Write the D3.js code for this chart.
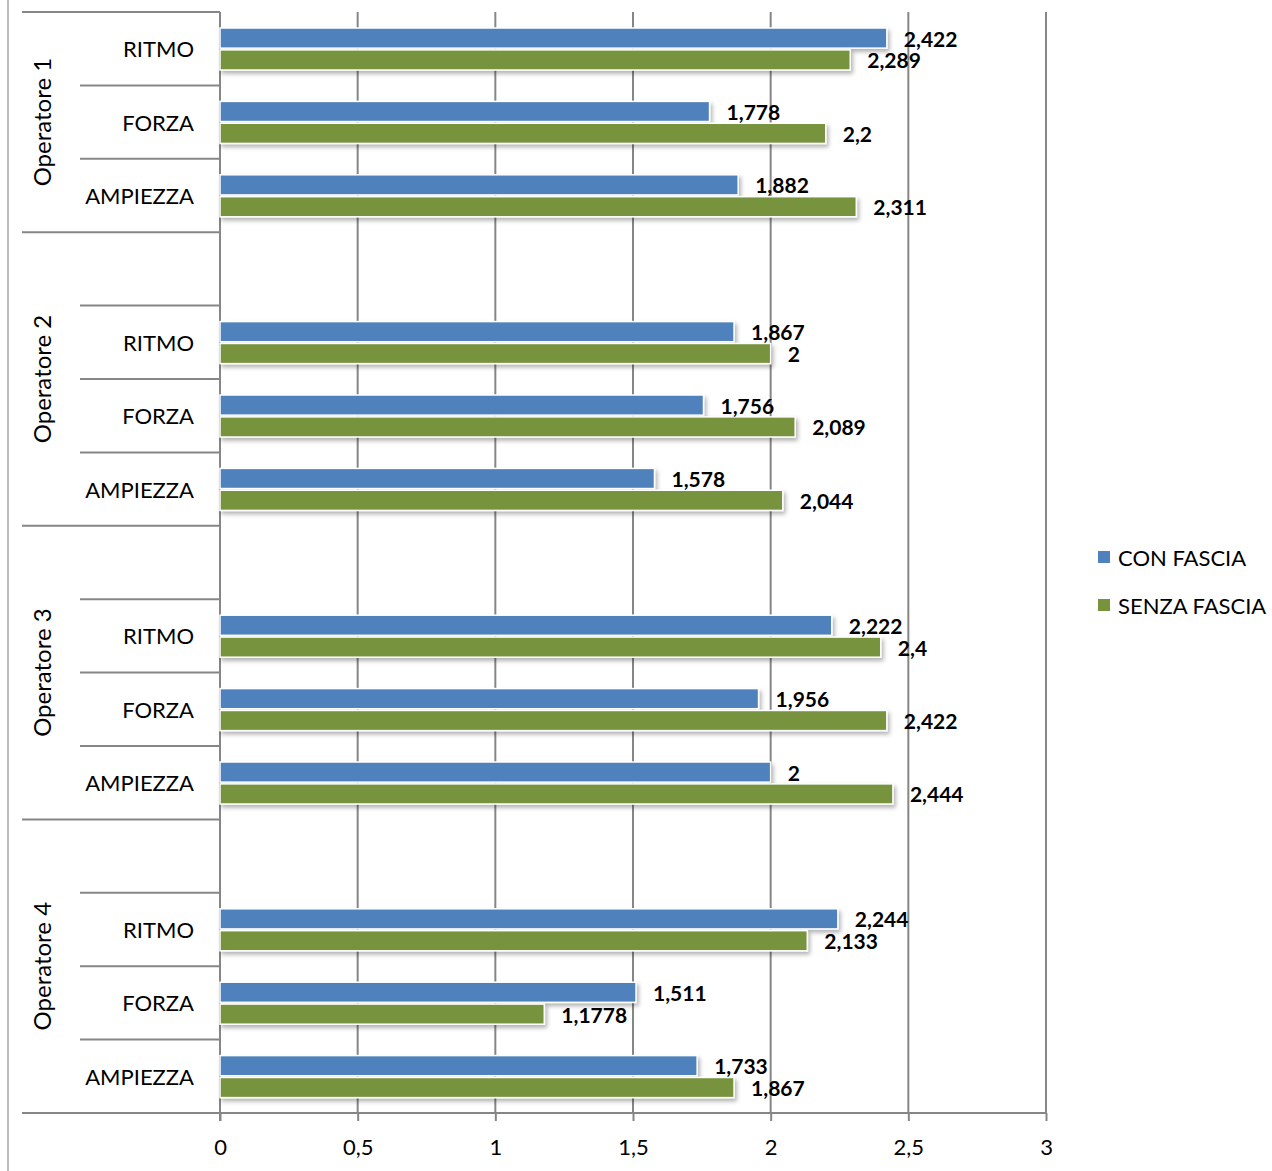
<!DOCTYPE html>
<html>
<head>
<meta charset="utf-8">
<script src="https://cdn.jsdelivr.net/npm/d3@7"></script>
<style>
  body { margin: 0; background: #fff; }
  svg { font-family: Lato, "Open Sans", sans-serif; }
</style>
</head>
<body>
<div id="chart"></div>
<script>
// data
const operators = ["Operatore 1", "Operatore 2", "Operatore 3", "Operatore 4"];
const measures = ["RITMO", "FORZA", "AMPIEZZA"];
const seriesNames = ["CON FASCIA", "SENZA FASCIA"];
const conFascia = [
  [2.422, 1.778, 1.882],
  [1.867, 1.756, 1.578],
  [2.222, 1.956, 2],
  [2.244, 1.511, 1.733]
];
const senzaFascia = [
  [2.289, 2.2, 2.311],
  [2, 2.089, 2.044],
  [2.4, 2.422, 2.444],
  [2.133, 1.1778, 1.867]
];
const xTicks = [0, 0.5, 1, 1.5, 2, 2.5, 3];
const colors = ["#4f81bd", "#77933c"];

const W = 1272, H = 1171;
const plot = { left: 220, right: 1046, top: 12, bottom: 1113 };

const itLocale = d3.formatLocale({ decimal: ",", thousands: ".", grouping: [3], currency: ["€", ""] });
const fmtVal = itLocale.format(".4~f");
const fmtTick = itLocale.format("~g");

// rows: group 1 has no blank row, the others start with a blank row
const rows = [];
operators.forEach((op, gi) => {
  if (gi > 0) rows.push({ key: op + "-blank", group: gi, blank: true });
  measures.forEach((m, mi) => rows.push({ key: op + "-" + m, group: gi, measure: m, mi }));
});

const svg = d3.select("#chart").append("svg")
  .attr("width", W).attr("height", H);

const defs = svg.append("defs");
defs.append("filter").attr("id", "shadow")
  .attr("x", "-5%").attr("y", "-30%").attr("width", "110%").attr("height", "180%")
  .append("feDropShadow")
  .attr("dx", 2).attr("dy", 3).attr("stdDeviation", 2)
  .attr("flood-color", "#000").attr("flood-opacity", 0.3);

const x = d3.scaleLinear().domain([0, 3]).range([plot.left, plot.right]);
const y = d3.scaleBand().domain(rows.map(r => r.key)).range([plot.top, plot.bottom]);
const ySeries = d3.scaleBand().domain(seriesNames).range([16, 58]).paddingInner(0.08);

const grid = "#868686";

// left frame line
svg.append("line").attr("x1", 8).attr("x2", 8).attr("y1", 0).attr("y2", H)
  .attr("stroke", "#a6a6a6").attr("stroke-width", 1.5);

// vertical gridlines
svg.append("g").selectAll("line").data(xTicks.slice(1)).join("line")
  .attr("x1", d => x(d)).attr("x2", d => x(d))
  .attr("y1", plot.top).attr("y2", plot.bottom)
  .attr("stroke", grid).attr("stroke-width", 2);

// x axis
const xAxis = d3.axisBottom(x).tickValues(xTicks).tickFormat(fmtTick).tickSize(8).tickPadding(18);
const gx = svg.append("g").attr("transform", `translate(0,${plot.bottom})`).call(xAxis);
gx.select(".domain").remove();
gx.selectAll(".tick line").attr("stroke", grid).attr("stroke-width", 2);
gx.selectAll(".tick text").attr("font-size", 22).attr("fill", "#000")
  .attr("font-family", "Lato, 'Open Sans', sans-serif");
svg.append("line").attr("x1", 22).attr("x2", plot.right)
  .attr("y1", plot.bottom).attr("y2", plot.bottom)
  .attr("stroke", grid).attr("stroke-width", 2);

// category axis line
svg.append("line").attr("x1", plot.left).attr("x2", plot.left)
  .attr("y1", plot.top).attr("y2", plot.bottom + 8)
  .attr("stroke", grid).attr("stroke-width", 2);

// row separators: long lines at group boundaries, short ones between rows
const groupStarts = operators.map((op, gi) => rows.find(r => r.group === gi));
svg.append("g").selectAll("line").data(groupStarts).join("line")
  .attr("x1", 22).attr("x2", plot.left)
  .attr("y1", d => y(d.key)).attr("y2", d => y(d.key))
  .attr("stroke", grid).attr("stroke-width", 2);
const innerRows = rows.filter(r => !groupStarts.includes(r));
svg.append("g").selectAll("line").data(innerRows).join("line")
  .attr("x1", 80).attr("x2", plot.left)
  .attr("y1", d => y(d.key)).attr("y2", d => y(d.key))
  .attr("stroke", grid).attr("stroke-width", 2);

// category labels
const dataRows = rows.filter(r => !r.blank);
svg.append("g").selectAll("text").data(dataRows).join("text")
  .attr("x", 194).attr("y", d => y(d.key) + y.bandwidth() / 2)
  .attr("text-anchor", "end").attr("dominant-baseline", "central")
  .attr("font-size", 22).attr("fill", "#000")
  .text(d => d.measure);

// group labels
svg.append("g").selectAll("text").data(operators).join("text")
  .attr("transform", (op, gi) => {
    const gr = rows.filter(r => r.group === gi);
    const cy = (y(gr[0].key) + y(gr[gr.length - 1].key) + y.bandwidth()) / 2;
    return `translate(41,${cy}) rotate(-90)`;
  })
  .attr("text-anchor", "middle").attr("dominant-baseline", "central")
  .attr("font-size", 24).attr("fill", "#000")
  .text(d => d);

// bars
const barData = [];
dataRows.forEach(r => {
  barData.push({ row: r, series: seriesNames[0], value: conFascia[r.group][r.mi], color: colors[0] });
  barData.push({ row: r, series: seriesNames[1], value: senzaFascia[r.group][r.mi], color: colors[1] });
});

svg.append("g").selectAll("rect").data(barData).join("rect")
  .attr("x", x(0))
  .attr("y", d => y(d.row.key) + ySeries(d.series))
  .attr("width", d => x(d.value) - x(0))
  .attr("height", ySeries.bandwidth())
  .attr("fill", d => d.color)
  .attr("stroke", "#fff").attr("stroke-width", 1.5)
  .attr("filter", "url(#shadow)");

// value labels
svg.append("g").selectAll("text").data(barData).join("text")
  .attr("x", d => x(d.value) + 17)
  .attr("y", d => y(d.row.key) + ySeries(d.series) + ySeries.bandwidth() / 2)
  .attr("dominant-baseline", "central")
  .attr("font-size", 21).attr("font-weight", "bold").attr("fill", "#000")
  .text(d => fmtVal(d.value));

// legend
const legend = svg.append("g").selectAll("g").data(seriesNames).join("g")
  .attr("transform", (d, i) => `translate(1098,${557 + i * 48})`);
legend.append("rect").attr("x", 0).attr("y", -6).attr("width", 12).attr("height", 12)
  .attr("fill", (d, i) => colors[i]);
legend.append("text").attr("x", 20).attr("y", 0)
  .attr("dominant-baseline", "central")
  .attr("font-size", 22).attr("fill", "#000")
  .text(d => d);
</script>
</body>
</html>
